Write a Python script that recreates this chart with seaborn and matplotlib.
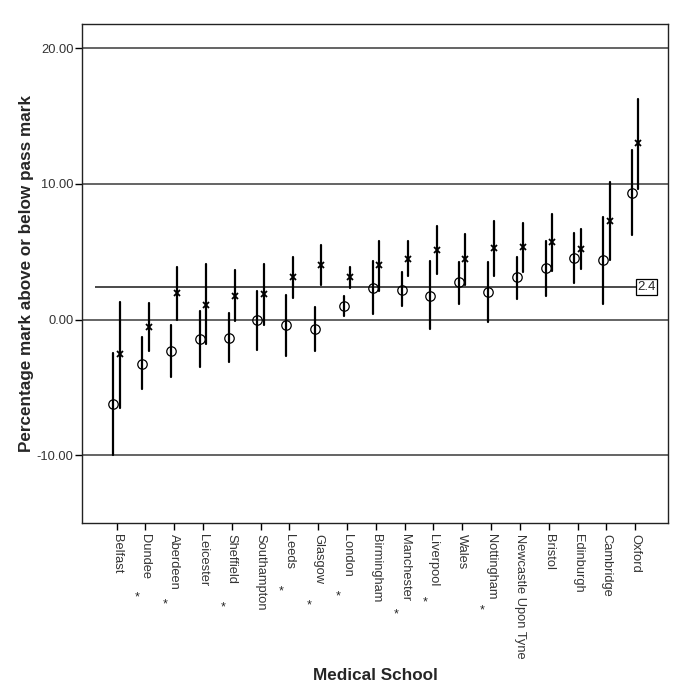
import numpy as np
import pandas as pd
import matplotlib
matplotlib.use("Agg")
import matplotlib.pyplot as plt
import matplotlib.transforms as mtransforms
from matplotlib.ticker import FormatStrFormatter
import seaborn as sns

sns.set_style("white")
plt.rcParams['font.family'] = ['Liberation Sans', 'DejaVu Sans']

# ── data ─────────────────────────────────────────────────
schools = ["Belfast", "Dundee", "Aberdeen", "Leicester", "Sheffield", "Southampton",
           "Leeds", "Glasgow", "London", "Birmingham", "Manchester", "Liverpool",
           "Wales", "Nottingham", "Newcastle Upon Tyne", "Bristol", "Edinburgh",
           "Cambridge", "Oxford"]

circle_mid = [-6.25, -3.24, -2.33, -1.47, -1.35, -0.05, -0.42, -0.69, 1.03, 2.33,
              2.20, 1.76, 2.75, 2.01, 3.11, 3.80, 4.53, 4.41, 9.31]
circle_lo  = [-10.0, -5.15, -4.20, -3.50, -3.14, -2.25, -2.70, -2.35, 0.25, 0.42,
              0.98, -0.69, 1.18, -0.17, 1.52, 1.76, 2.70, 1.18, 6.20]
circle_hi  = [-2.50, -1.30, -0.42, 0.61, 0.49, 2.08, 1.81, 0.91, 1.72, 4.29,
              3.48, 4.29, 4.24, 4.22, 4.61, 5.83, 6.37, 7.60, 12.5]

cross_mid  = [-2.57, -0.54, 1.96, 1.10, 1.76, 1.91, 3.11, 4.04, 3.14, 4.00,
              4.49, 5.15, 4.49, 5.27, 5.32, 5.71, 5.20, 7.30, 13.0]
cross_lo   = [-6.50, -2.33, 0.00, -1.79, -0.07, -0.37, 1.59, 2.57, 2.33, 2.08,
              3.19, 3.38, 2.57, 3.24, 3.48, 3.55, 3.73, 4.41, 9.60]
cross_hi   = [1.27, 1.23, 3.87, 4.07, 3.63, 4.12, 4.61, 5.51, 3.85, 5.83,
              5.83, 6.91, 6.32, 7.28, 7.11, 7.79, 6.67, 10.17, 16.3]

starred    = ["Dundee", "Aberdeen", "Sheffield", "Leeds", "Glasgow", "London",
              "Manchester", "Liverpool", "Nottingham"]
ref_value  = 2.4
y_ticks    = [-10, 0, 10, 20]

# star depth below the axis (px), style only
star_depth = {"Dundee": 74, "Aberdeen": 81, "Sheffield": 84, "Leeds": 68, "Glasgow": 82,
              "London": 73, "Manchester": 91, "Liverpool": 79, "Nottingham": 87}

# ── long-form table: lo / mid / hi per school & series ──
rows = []
for name, lo, mid, hi in [("circle", circle_lo, circle_mid, circle_hi),
                          ("cross", cross_lo, cross_mid, cross_hi)]:
    for s, a, b, c in zip(schools, lo, mid, hi):
        for v in (a, b, c):
            rows.append({"school": s, "series": name, "value": v})
df = pd.DataFrame(rows)

# ── figure ───────────────────────────────────────────────
fig = plt.figure(figsize=(6.85, 6.96), dpi=100)
ax = fig.add_axes([0.1197, 0.2486, 0.8555, 0.717])

for yv in y_ticks:
    ax.axhline(yv, color="#3a3a3a", lw=1.1, zorder=1)

sns.pointplot(data=df, x="school", y="value", hue="series", order=schools,
              hue_order=["circle", "cross"], palette=["black", "black"],
              estimator="median", errorbar=lambda v: (v.min(), v.max()),
              dodge=0.22, markers=["o", "x"], linestyles=["none", "none"],
              markersize=6.8, markerfacecolor="none", markeredgewidth=0.9,
              err_kws={"linewidth": 1.6}, legend=False, ax=ax, zorder=3)

for ln in ax.lines:
    if ln.get_marker() == "x":
        ln.set_markersize(4.2)
        ln.set_markeredgewidth(1.3)

# reference line with boxed label
ax.hlines(ref_value, -0.75, 18.07, color="#3a3a3a", lw=1.3, zorder=2)
ax.text(18.07, ref_value, f"{ref_value}", ha="left", va="center", fontsize=9.5,
        bbox=dict(boxstyle="square,pad=0.12", fc="white", ec="black", lw=0.9), zorder=4)

ax.set_xlim(-1.2, 19.14)
ax.set_ylim(-15, 21.8)
ax.set_yticks(y_ticks)
ax.yaxis.set_major_formatter(FormatStrFormatter("%.2f"))
ax.tick_params(axis="both", direction="out", length=5, width=1, color="black",
               labelsize=9.3, labelcolor="#333333", pad=1)
ax.tick_params(axis="x", pad=3)
ax.set_xticks(range(len(schools)))
ax.set_xticklabels(schools, rotation=270, ha="center", va="top")
ax.tick_params(left=True, bottom=True)

for sp in ax.spines.values():
    sp.set_visible(True)
    sp.set_color("#222222")
    sp.set_linewidth(1.0)

ax.set_xlabel("Medical School", fontsize=12.3, fontweight="bold")
ax.set_ylabel("Percentage mark above or below pass mark", fontsize=12.3, fontweight="bold")
ax.xaxis.set_label_coords(0.5, -0.29)
ax.yaxis.set_label_coords(-0.082, 0.5)

# significance stars under the school names
trans = mtransforms.blended_transform_factory(ax.transData, ax.transAxes)
for s in starred:
    i = schools.index(s)
    ax.text(i - 0.3, -star_depth[s] / 499, "*", transform=trans,
            ha="center", va="center", fontsize=9)

fig.savefig("out.png", dpi=100)
